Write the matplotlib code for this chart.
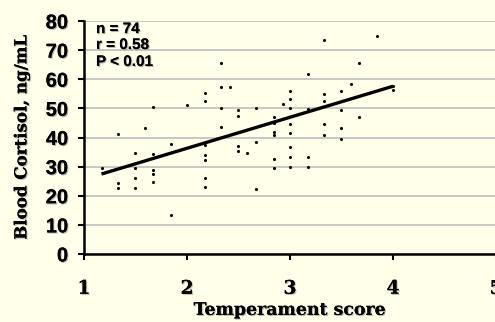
import numpy as np
import matplotlib
matplotlib.use("Agg")
import matplotlib.pyplot as plt
import matplotlib.patheffects as pe

# Data (temperament score, blood cortisol ng/mL)
score = [1.17,
         1.33, 1.33, 1.33,
         1.5, 1.5, 1.5, 1.5,
         1.59,
         1.67, 1.67, 1.67, 1.67, 1.67,
         1.84, 1.84,
         2.0,
         2.17, 2.17, 2.17, 2.17, 2.17, 2.17, 2.17,
         2.33, 2.33, 2.33, 2.33,
         2.42,
         2.5, 2.5, 2.5, 2.5,
         2.58,
         2.67, 2.67, 2.67,
         2.84, 2.84, 2.84, 2.84, 2.84, 2.84,
         2.93,
         3.0, 3.0, 3.0, 3.0, 3.0, 3.0, 3.0, 3.0,
         3.17, 3.17, 3.17, 3.17,
         3.33, 3.33, 3.33, 3.33, 3.33,
         3.5, 3.5, 3.5, 3.5,
         3.59,
         3.67, 3.67,
         3.84,
         4.0, 4.0]
cortisol = [29.4,
            41.1, 24.3, 22.6,
            34.6, 29.4, 26.0, 22.8,
            43.2,
            50.6, 34.3, 28.9, 27.4, 24.8,
            37.7, 13.4,
            51.0,
            55.2, 52.5, 37.3, 33.9, 32.2, 26.1, 23.0,
            65.6, 57.2, 50.3, 43.7,
            57.3,
            49.3, 47.5, 37.2, 35.5,
            34.6,
            50.3, 38.3, 22.2,
            47.1, 44.9, 41.8, 41.0, 32.6, 29.4,
            51.5,
            55.8, 53.2, 50.3, 44.6, 41.5, 36.7, 33.3, 29.8,
            61.8, 49.7, 33.3, 29.8,
            73.5, 55.0, 52.7, 44.6, 40.8,
            56.1, 49.5, 43.4, 39.4,
            58.5,
            65.5, 47.0,
            75.0,
            57.8, 56.4]
# trend line of the full (n = 74) data set as drawn in the chart
trend_intercept = 15.0
trend_slope = 10.65
stats_text = ["n = 74", "r = 0.58", "P < 0.01"]
x_ticks = [1, 2, 3, 4, 5]
y_ticks = [0, 10, 20, 30, 40, 50, 60, 70, 80]

bg = "#FFFFEA"
fig = plt.figure(figsize=(4.95, 3.22), dpi=100, facecolor=bg)
ax = fig.add_axes([84/495, 1-254/322, 1-84/495 + 0.002, (254-21)/322])
ax.set_facecolor(bg)

shadow = [pe.withSimplePatchShadow(offset=(0.8, -0.8), shadow_rgbFace="#888888", alpha=0.6), pe.Normal()]

ax.set_xlim(1, 5)
ax.set_ylim(0, 80)
ax.set_yticks(y_ticks)
ax.set_xticks(x_ticks)
ax.grid(axis="y", color="#BDBDBD", linewidth=1.2, zorder=0)
ax.set_axisbelow(True)

for s in ["top", "right"]:
    ax.spines[s].set_visible(False)
for s in ["left", "bottom"]:
    ax.spines[s].set_linewidth(1.8)
    ax.spines[s].set_color("black")

ax.tick_params(axis="y", direction="out", length=4.5, width=1.5, pad=7)
ax.tick_params(axis="x", direction="out", length=4.5, width=1.5, pad=14)

for lab in ax.get_yticklabels():
    lab.set_fontfamily("Liberation Sans")
    lab.set_fontweight("bold")
    lab.set_fontsize(14.5)
    lab.set_path_effects(shadow)
for lab in ax.get_xticklabels():
    lab.set_fontfamily("DejaVu Serif")
    lab.set_fontweight("bold")
    lab.set_fontsize(13.5)
    lab.set_path_effects(shadow)

ax.scatter(score, cortisol, s=5, color="black", zorder=3, linewidths=0)

xs = np.array([min(score), max(score)])
ax.plot(xs, trend_intercept + trend_slope * xs, color="black", linewidth=2.4, zorder=4,
        solid_capstyle="butt")

ax.set_xlabel("Temperament score", fontfamily="DejaVu Serif", fontweight="bold", fontsize=12.5,
              labelpad=3, path_effects=shadow)
ax.set_ylabel("Blood Cortisol, ng/mL", fontfamily="DejaVu Serif", fontweight="bold", fontsize=12,
              labelpad=11, path_effects=shadow)

ys = [0.948, 0.880, 0.807]
for t, yy in zip(stats_text, ys):
    ax.text(0.029, yy, t, transform=ax.transAxes, fontfamily="Liberation Sans", fontweight="bold",
            fontsize=11, va="baseline", ha="left", path_effects=shadow)

fig.savefig("out.png", dpi=100, facecolor=bg)
